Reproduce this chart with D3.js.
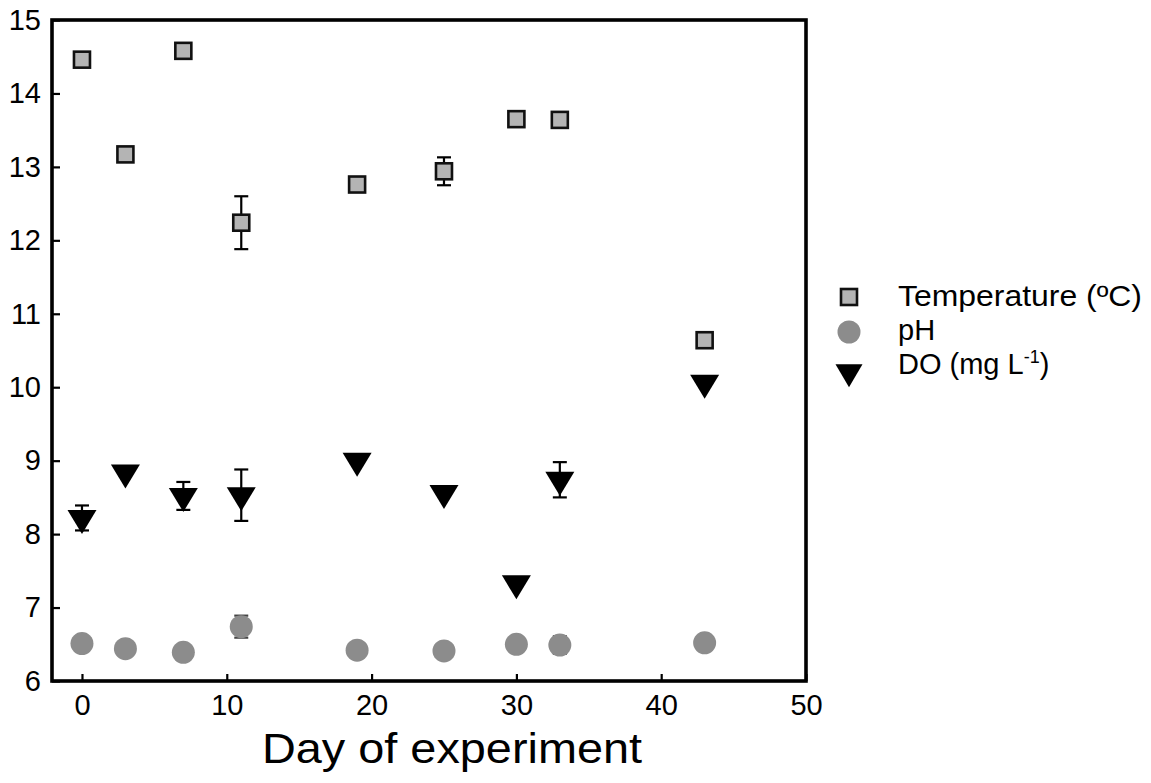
<!DOCTYPE html>
<html><head><meta charset="utf-8">
<script src="https://cdn.jsdelivr.net/npm/d3@7"></script>
<style>
body{margin:0;background:#fff;}
text{font-family:"Liberation Sans",Arial,Helvetica,sans-serif;fill:#000;}
</style></head>
<body>
<svg id="chart" width="1151" height="783"></svg>
<script>
const days = [0, 3, 7, 11, 19, 25, 30, 33, 43];
const temperature = [14.46, 13.17, 14.58, 12.24, 12.76, 12.94, 13.65, 13.64, 10.64];
const temperatureErr = [0, 0, 0, 0.36, 0, 0.19, 0, 0, 0];
const ph = [6.51, 6.44, 6.39, 6.74, 6.42, 6.41, 6.50, 6.49, 6.52];
const phErr = [0, 0, 0, 0.15, 0, 0, 0, 0.12, 0];
const dissolvedO2 = [8.22, 8.84, 8.52, 8.53, 9.00, 8.56, 7.33, 8.74, 10.06];
const dissolvedO2Err = [0.17, 0, 0.19, 0.35, 0, 0, 0, 0.24, 0];
const xTicks = [0, 10, 20, 30, 40, 50];
const yTicks = [6, 7, 8, 9, 10, 11, 12, 13, 14, 15];
const seriesNames = ["Temperature (ºC)", "pH", "DO (mg L-1)"];

const svg = d3.select("#chart");
const L = 52, R = 806, T = 20, B = 681;
const x = d3.scaleLinear().domain([-2.07, 50]).range([L, R]);
const y = d3.scaleLinear().domain([6, 15]).range([B, T]);

// axes
const xAxis = svg.append("g").attr("transform", `translate(0,${B})`)
  .call(d3.axisBottom(x).tickValues(xTicks).tickSize(-7).tickPadding(13));
const yAxis = svg.append("g").attr("transform", `translate(${L},0)`)
  .call(d3.axisLeft(y).tickValues(yTicks).tickSize(-8).tickPadding(11));
[xAxis, yAxis].forEach(g => {
  g.select(".domain").remove();
  g.selectAll(".tick line").attr("stroke", "#000").attr("stroke-width", 2.2);
  g.selectAll(".tick text").style("font-size", "29px").attr("fill", "#000")
    .style("font-family", '"Liberation Sans",Arial,sans-serif');
});
xAxis.selectAll(".tick text").filter(d => d === 0 || d === 50).each(function(){});

// frame
svg.append("rect").attr("x", L).attr("y", T).attr("width", R - L).attr("height", B - T)
  .attr("fill", "none").attr("stroke", "#000").attr("stroke-width", 3.6);

// x title
svg.append("text").attr("x", 452).attr("y", 763).attr("text-anchor", "middle")
  .style("font-size", "43px").attr("textLength", 380).attr("lengthAdjust", "spacingAndGlyphs")
  .text("Day of experiment");

// error bars
function errBars(vals, errs, color) {
  const d = days.map((dd, i) => ({x: dd, v: vals[i], e: errs[i]})).filter(o => o.e > 0);
  const g = svg.append("g").attr("stroke", color).attr("stroke-width", 2.2).attr("fill", "none");
  d.forEach(o => {
    const cx = x(o.x), y1 = y(o.v + o.e), y2 = y(o.v - o.e);
    g.append("line").attr("x1", cx).attr("x2", cx).attr("y1", y1).attr("y2", y2);
    g.append("line").attr("x1", cx - 7).attr("x2", cx + 7).attr("y1", y1).attr("y2", y1);
    g.append("line").attr("x1", cx - 7).attr("x2", cx + 7).attr("y1", y2).attr("y2", y2);
  });
}
errBars(temperature, temperatureErr, "#000");
errBars(ph, phErr, "#444");
errBars(dissolvedO2, dissolvedO2Err, "#000");

const tri = (w, h) => `M${-w/2},${-h/3}L${w/2},${-h/3}L0,${2*h/3}Z`;

// pH circles
svg.append("g").selectAll("circle").data(days).join("circle")
  .attr("cx", d => x(d)).attr("cy", (d, i) => y(ph[i])).attr("r", 11.5)
  .attr("fill", "#8c8c8c");

// temperature squares
svg.append("g").selectAll("rect").data(days).join("rect")
  .attr("x", d => x(d) - 8).attr("y", (d, i) => y(temperature[i]) - 8)
  .attr("width", 16).attr("height", 16)
  .attr("fill", "#b4b4b4").attr("stroke", "#111").attr("stroke-width", 2.6);

// DO triangles
svg.append("g").selectAll("path").data(days).join("path")
  .attr("transform", (d, i) => `translate(${x(d)},${y(dissolvedO2[i])})`)
  .attr("d", tri(29, 24)).attr("fill", "#000");

// legend
const lx = 849, tx = 898;
const lg = svg.append("g");
lg.append("rect").attr("x", lx - 8).attr("y", 297 - 8).attr("width", 16).attr("height", 16)
  .attr("fill", "#b4b4b4").attr("stroke", "#111").attr("stroke-width", 2.6);
lg.append("circle").attr("cx", lx).attr("cy", 332).attr("r", 11.5).attr("fill", "#8c8c8c");
lg.append("path").attr("transform", `translate(${lx},372)`).attr("d", tri(27, 23)).attr("fill", "#000");

const fs = "29px";
lg.append("text").attr("x", tx).attr("y", 306).style("font-size", fs)
  .attr("textLength", 244).attr("lengthAdjust", "spacingAndGlyphs").text(seriesNames[0]);
lg.append("text").attr("x", tx).attr("y", 340).style("font-size", fs).text(seriesNames[1]);
const t3 = lg.append("text").attr("x", tx).attr("y", 374).style("font-size", fs);
t3.append("tspan").text("DO (mg L");
t3.append("tspan").attr("dy", -11).style("font-size", "18px").text("-1");
t3.append("tspan").attr("dy", 11).text(")");
</script>
</body></html>
